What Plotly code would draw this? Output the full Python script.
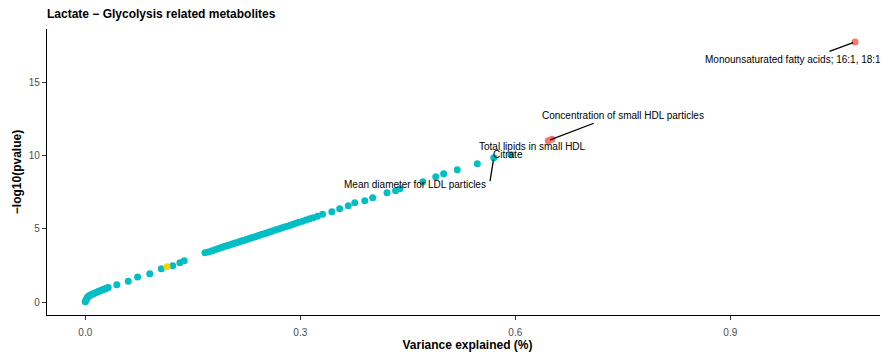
import plotly.graph_objects as go

# ---------------- data ----------------
# background metabolites (cyan)
other_x = [0.000, 0.001, 0.002, 0.003, 0.004, 0.006, 0.008, 0.010, 0.012, 0.014,
           0.016, 0.018, 0.020, 0.022, 0.024, 0.026, 0.028, 0.030, 0.032,
           0.044, 0.060, 0.073, 0.090, 0.106, 0.122, 0.132, 0.138,
           0.167, 0.172, 0.176, 0.180, 0.184, 0.187, 0.190, 0.193, 0.196, 0.199,
           0.202, 0.205, 0.208, 0.211, 0.214, 0.217, 0.220, 0.223, 0.226, 0.229,
           0.232, 0.235, 0.238, 0.241, 0.244, 0.247, 0.250, 0.253, 0.256, 0.259,
           0.262, 0.266, 0.270, 0.274, 0.278, 0.282, 0.286, 0.290, 0.294, 0.298,
           0.303, 0.308, 0.313, 0.318, 0.324, 0.331,
           0.344, 0.355, 0.367, 0.376, 0.390, 0.401, 0.421, 0.433, 0.439, 0.471,
           0.489, 0.500, 0.519, 0.547, 0.570, 0.594]
other_y = [0.02, 0.12, 0.22, 0.30, 0.37, 0.44, 0.50, 0.54, 0.58, 0.63,
           0.67, 0.71, 0.75, 0.79, 0.83, 0.87, 0.91, 0.95, 0.99,
           1.18, 1.41, 1.71, 1.93, 2.27, 2.48, 2.68, 2.82,
           3.36, 3.42, 3.49, 3.55, 3.62, 3.67, 3.72, 3.77, 3.82, 3.86,
           3.91, 3.96, 4.01, 4.05, 4.10, 4.15, 4.20, 4.24, 4.29, 4.34,
           4.39, 4.43, 4.48, 4.53, 4.58, 4.62, 4.67, 4.72, 4.77, 4.81,
           4.86, 4.93, 4.99, 5.05, 5.12, 5.18, 5.25, 5.31, 5.38, 5.44,
           5.52, 5.60, 5.68, 5.76, 5.86, 5.99,
           6.17, 6.37, 6.58, 6.78, 6.92, 7.12, 7.47, 7.60, 7.74, 8.22,
           8.56, 8.76, 9.04, 9.45, 9.86, 10.06]

# highlighted metabolite (yellow)
lactate_x = [0.114]
lactate_y = [2.41]

# top hits (red)
top_x = [0.646, 0.651, 1.074]
top_y = [11.02, 11.12, 17.76]

# labelled points
label_names = ["Monounsaturated fatty acids; 16:1, 18:1",
               "Concentration of small HDL particles",
               "Total lipids in small HDL",
               "Citrate",
               "Mean diameter for LDL particles"]
label_x = [1.074, 0.646, 0.651, 0.594, 0.570]
label_y = [17.76, 11.02, 11.12, 10.06, 9.86]

x_ticks = [0.0, 0.3, 0.6, 0.9]
x_tick_labels = ["0.0", "0.3", "0.6", "0.9"]
y_ticks = [0, 5, 10, 15]
y_tick_labels = ["0", "5", "10", "15"]

# ---------------- styling ----------------
CYAN = "#00BFC4"
RED = "#F8766D"
GOLD = "#F7D100"
FONT = "Liberation Sans, Arial, sans-serif"

# label placement (pixel offsets from the point): text shift, connector tail
text_shift = [(-62, -17), (75, 25), (-19, -7), (-3, 0), (-79, -27)]
connector = [(-27, 10), (47, -18), None, None, (-4, 25)]

fig = go.Figure()
fig.add_trace(go.Scatter(x=other_x, y=other_y, mode="markers",
                         marker=dict(color=CYAN, size=7, line=dict(width=0)),
                         hoverinfo="skip", showlegend=False))
fig.add_trace(go.Scatter(x=lactate_x, y=lactate_y, mode="markers",
                         marker=dict(color=GOLD, size=7, line=dict(width=0)),
                         hoverinfo="skip", showlegend=False))
fig.add_trace(go.Scatter(x=top_x, y=top_y, mode="markers",
                         marker=dict(color=RED, size=7, line=dict(width=0)),
                         hoverinfo="skip", showlegend=False))

annotations = []
for name, px, py, (dx, dy), con in zip(label_names, label_x, label_y, text_shift, connector):
    if con is not None:
        annotations.append(dict(x=px, y=py, xref="x", yref="y", text="",
                                showarrow=True, arrowhead=0, arrowwidth=1.3,
                                arrowcolor="black", ax=con[0], ay=con[1],
                                standoff=2, startstandoff=0))
    annotations.append(dict(x=px, y=py, xref="x", yref="y", text=name,
                            showarrow=False, xshift=dx, yshift=dy,
                            font=dict(family=FONT, size=10, color="black")))

# the page adds an 8px body margin, so the figure is 880x347 inside 888x355
fig.update_layout(
    width=880, height=347,
    margin=dict(l=39, r=0, t=21, b=40, autoexpand=False),
    paper_bgcolor="white", plot_bgcolor="white",
    font=dict(family=FONT),
    title=dict(text="<b>Lactate \u2212 Glycolysis related metabolites</b>",
               x=39 / 880, xanchor="left", xref="container",
               y=1 - 6 / 347, yanchor="middle", yref="container",
               font=dict(family=FONT, size=12, color="black")),
    annotations=annotations,
)
fig.update_xaxes(range=[-0.0534, 1.120], tickvals=x_ticks, ticktext=x_tick_labels,
                 automargin=False,
                 showgrid=False, zeroline=False, showline=True, linecolor="black",
                 linewidth=1.2, ticks="outside", ticklen=4, tickcolor="#333333",
                 tickwidth=1, ticklabelstandoff=4,
                 tickfont=dict(family=FONT, size=10, color="#4D4D4D"),
                 title=dict(text="<b>Variance explained (%)</b>", standoff=0,
                            font=dict(family=FONT, size=12, color="black")))
fig.update_yaxes(range=[-0.888, 18.65], tickvals=y_ticks, ticktext=y_tick_labels,
                 automargin=False,
                 showgrid=False, zeroline=False, showline=True, linecolor="black",
                 linewidth=1.2, ticks="outside", ticklen=4, tickcolor="#333333",
                 tickwidth=1, tickfont=dict(family=FONT, size=10, color="#4D4D4D"),
                 title=dict(text="<b>\u2212log10(pvalue)</b>", standoff=4,
                            font=dict(family=FONT, size=12, color="black")))

fig.write_html("out.html")
